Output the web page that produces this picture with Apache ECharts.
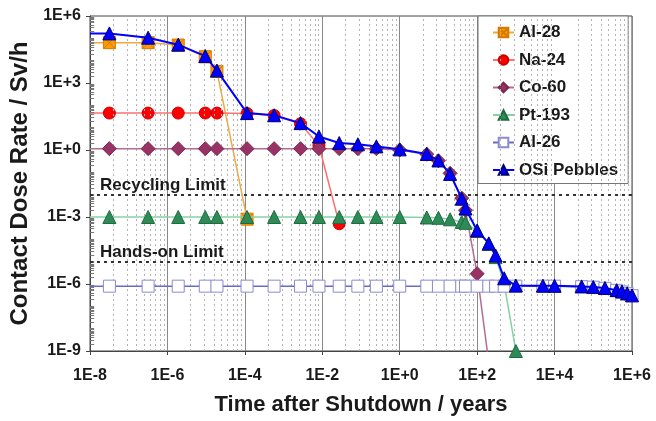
<!DOCTYPE html>
<html><head><meta charset="utf-8">
<script src="https://cdn.jsdelivr.net/npm/echarts@6/dist/echarts.min.js"></script>
<style>html,body{margin:0;padding:0;background:#fff}#c{width:656px;height:421px}</style>
</head><body><div id="c"></div>
<script>
// Time after shutdown (years)
const times = [1e-8, 3.17e-8, 3.17e-7, 1.9e-6, 9.5e-6, 1.9e-5, 1.14e-4, 5.7e-4, 2.74e-3, 8.2e-3, 0.0274, 0.083, 0.25, 1, 5, 10, 20, 40, 50, 100, 200, 300, 500, 1000, 5000, 1e4, 5e4, 1e5, 2e5, 4e5, 5.5e5, 7.5e5, 1e6];
// Contact dose rate (Sv/h)
const al28 = [6.4e4, 6.4e4, 6.4e4, 5.0e4, 1.5e4, 3.3e3, 8e-4];
const na24 = [45, 45, 45, 45, 45, 45, 43, 35, 15, 1.6, 5e-4];
const co60 = [1.15, 1.15, 1.15, 1.15, 1.15, 1.15, 1.15, 1.15, 1.15, 1.15, 1.15, 1.15, 1.15, 1.0, 0.65, 0.33, 0.09, 7e-3, 2e-3, 2.9e-6, 3e-10];
const pt193 = [1e-3, 1e-3, 1e-3, 1e-3, 1e-3, 1e-3, 1e-3, 1e-3, 1e-3, 1e-3, 1e-3, 1e-3, 1e-3, 1e-3, 9.5e-4, 9.2e-4, 7.9e-4, 6e-4, 5.5e-4, 2.4e-4, 6.2e-5, 1.6e-5, 1e-6, 1e-9];
const al26 = [8e-7, 8e-7, 8e-7, 8e-7, 8e-7, 8e-7, 8e-7, 8e-7, 8e-7, 8e-7, 8e-7, 8e-7, 8e-7, 8e-7, 8e-7, 8e-7, 8e-7, 8e-7, 8e-7, 8e-7, 8e-7, 8e-7, 8e-7, 8e-7, 8e-7, 8e-7, 7.6e-7, 7.2e-7, 6.4e-7, 5.2e-7, 4.4e-7, 3.7e-7, 3.0e-7];
const osi = [1.66e5, 1.66e5, 1.07e5, 5.2e4, 1.6e4, 3.6e3, 45, 36, 16, 4.0, 2.05, 1.8, 1.45, 1.07, 0.66, 0.34, 0.085, 6.6e-3, 2.4e-3, 2.5e-4, 6.6e-5, 1.9e-5, 1.8e-6, 8.5e-7, 8.4e-7, 8.3e-7, 7.8e-7, 7.4e-7, 6.6e-7, 5.3e-7, 4.6e-7, 3.8e-7, 3.1e-7];
const seriesNames = ['Al-28', 'Na-24', 'Co-60', 'Pt-193', 'Al-26', 'OSi Pebbles'];
// Limits (Sv/h)
const limitValues = [1e-2, 1e-5];
const limitNames = ['Recycling Limit', 'Hands-on Limit'];
// Tick labels
const xTickExps = [-8, -6, -4, -2, 0, 2, 4, 6];
const xTickLabels = ['1E-8', '1E-6', '1E-4', '1E-2', '1E+0', '1E+2', '1E+4', '1E+6'];
const yTickExps = [-9, -6, -3, 0, 3, 6];
const yTickLabels = ['1E-9', '1E-6', '1E-3', '1E+0', '1E+3', '1E+6'];
const xMin = 1e-8, xMax = 1e6, yMin = 1e-9, yMax = 1e6;

const FONT = '"Liberation Sans", Arial, sans-serif';

function pairs(vals) {
  const out = [];
  vals.forEach((v, i) => {
    if (v == null) return;
    const item = { value: [times[i], v] };
    if (i === 0) item.symbol = 'none';
    out.push(item);
  });
  return out;
}
function fmt(exps, labels) {
  return function (v) {
    const e = Math.round(Math.log10(v));
    const k = exps.indexOf(e);
    return k >= 0 ? labels[k] : '';
  };
}

// vertical minor gridlines (Excel-style log base 100: k^2 * 10^(2n))
const minorX = [];
for (let e = -8; e < 6; e += 2) {
  for (let k = 2; k <= 9; k++) minorX.push({ xAxis: k * k * Math.pow(10, e) });
}
// y-axis inward minor ticks
const minorY = [];
const tickFactor = 1.28;
for (let e = -9; e < 6; e++) {
  for (let k = 1; k <= 9; k++) {
    const v = k * Math.pow(10, e);
    if (k === 1 && e % 3 === 0) continue;
    minorY.push([{ coord: [xMin, v], lineStyle: { type: 'solid', color: '#777' } }, { coord: [xMin * tickFactor, v] }]);
  }
}

const xSquare = 'path://M0,0L10,0L10,10L0,10Z M0,0L10,10 M10,0L0,10';

const styles = [
  { data: al28, symbol: xSquare, size: 12, fill: '#FF9900', border: '#D87A00', line: '#F4A83A', lw: 1.5 },
  { data: na24, symbol: 'circle', size: 12, fill: '#FF0000', border: '#C80000', line: '#FF7070', lw: 1.5 },
  { data: co60, symbol: 'diamond', size: 14, fill: '#993366', border: '#7A2850', line: '#B56C92', lw: 1.5 },
  { data: pt193, symbol: 'triangle', size: 13, fill: '#2E8B57', border: '#1E6B40', line: '#85D3A3', lw: 1.5 },
  { data: al26, symbol: 'rect', size: 12, fill: '#FFFFFF', border: '#8A8AD0', line: '#6A6AC8', lw: 1.5 },
  { data: osi, symbol: 'triangle', size: 13, fill: '#0000FF', border: '#00006E', line: '#0000FF', lw: 2 }
];

const series = [
  {
    name: 'gridhelper', type: 'line', data: [], silent: true, z: 1,
    markLine: {
      silent: true, symbol: 'none', animation: false, precision: 15,
      label: { show: false },
      lineStyle: { color: '#b4b4b4', type: [2, 3], width: 1 },
      data: minorX.concat(minorY)
    }
  },
  {
    name: 'limits', type: 'line', data: [], silent: true, z: 2,
    markLine: {
      silent: true, symbol: 'none', animation: false, precision: 15,
      lineStyle: { color: '#333', type: [3, 4], width: 2 },
      label: {
        show: true, position: 'insideStartTop', formatter: '{b}',
        fontFamily: FONT, fontWeight: 'bold', fontSize: 17, color: '#1a1a1a', distance: [10, 1]
      },
      data: limitValues.map((v, i) => ({ yAxis: v, name: limitNames[i] }))
    }
  }
];
styles.forEach((s, i) => {
  series.push({
    name: seriesNames[i], type: 'line', z: 3 + i,
    data: pairs(s.data),
    symbol: s.symbol, symbolSize: s.size, showAllSymbol: true, clip: true,
    itemStyle: { color: s.fill, borderColor: s.border, borderWidth: 1 },
    lineStyle: { color: s.line, width: s.lw },
    emphasis: { disabled: true }
  });
});

const chart = echarts.init(document.getElementById('c'), null, { renderer: 'canvas' });
chart.setOption({
  animation: false,
  backgroundColor: '#fff',
  grid: { left: 89, right: 24, top: 16, bottom: 66, show: true, borderColor: '#444', borderWidth: 1 },
  legend: {
    data: seriesNames, orient: 'vertical', left: 478, top: 16,
    itemWidth: 21, itemHeight: 12, itemGap: 10.5,
    padding: [8, 10, 5, 14], backgroundColor: '#fff', borderColor: '#777', borderWidth: 1, borderRadius: 0,
    textStyle: { fontFamily: FONT, fontSize: 17, fontWeight: 'bold', color: '#1a1a1a' }
  },
  xAxis: {
    type: 'log', logBase: 10, min: xMin, max: xMax, interval: 2,
    name: 'Time after Shutdown / years', nameLocation: 'middle', nameGap: 43,
    nameTextStyle: { fontFamily: FONT, fontSize: 22, fontWeight: 'bold', color: '#1a1a1a' },
    axisLine: { lineStyle: { color: '#444', width: 1 } },
    axisTick: { show: true, inside: false, length: 4, lineStyle: { color: '#444' } },
    axisLabel: { formatter: fmt(xTickExps, xTickLabels), margin: 17, fontFamily: FONT, fontSize: 16, fontWeight: 'bold', color: '#1a1a1a', showMinLabel: true, showMaxLabel: true },
    splitLine: { show: true, lineStyle: { color: '#888', width: 1 } },
    minorTick: { show: false }, minorSplitLine: { show: false }
  },
  yAxis: {
    type: 'log', logBase: 10, min: yMin, max: yMax, interval: 3,
    name: 'Contact Dose Rate / Sv/h', nameLocation: 'middle', nameGap: 58,
    nameTextStyle: { fontFamily: FONT, fontSize: 24, fontWeight: 'bold', color: '#1a1a1a' },
    axisLine: { show: true, lineStyle: { color: '#444', width: 1 } },
    axisTick: { show: true, inside: false, length: 4, lineStyle: { color: '#444' } },
    axisLabel: { formatter: fmt(yTickExps, yTickLabels), margin: 9, fontFamily: FONT, fontSize: 16, fontWeight: 'bold', color: '#1a1a1a', showMinLabel: true, showMaxLabel: true },
    splitLine: { show: false }
  },
  series: series
});
</script>
</body></html>
